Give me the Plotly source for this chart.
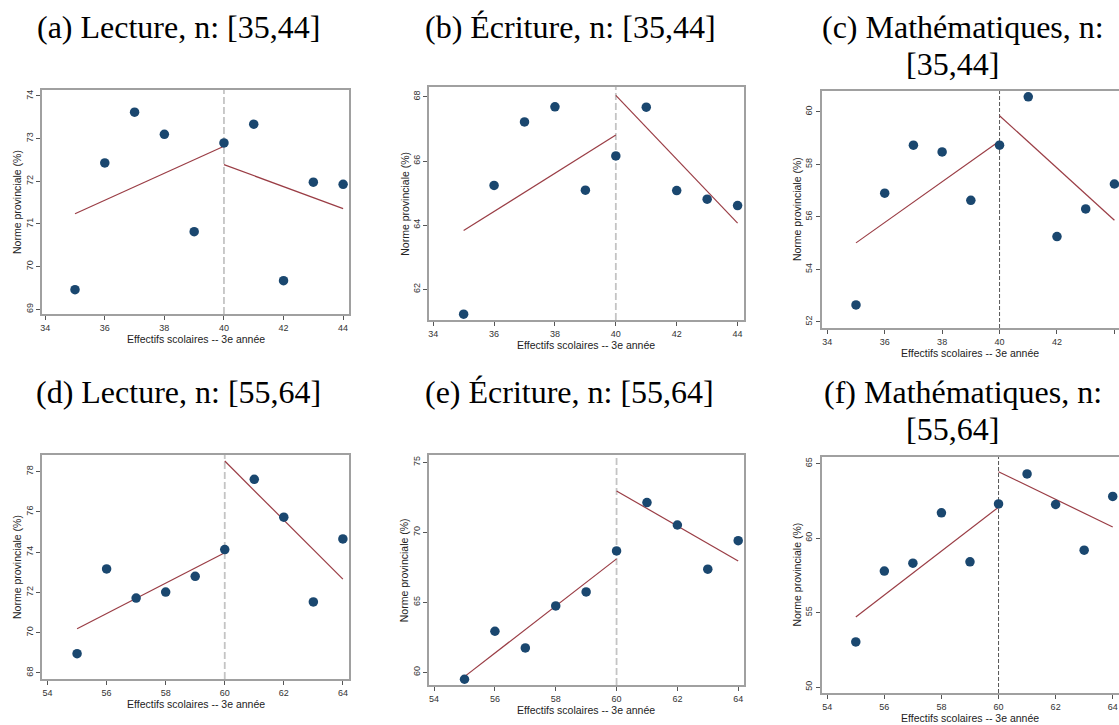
import plotly.graph_objects as go

# ---------------- DATA ----------------
x_35_44 = [35, 36, 37, 38, 39, 40, 41, 42, 43, 44]
x_55_64 = [55, 56, 57, 58, 59, 60, 61, 62, 63, 64]

lecture_35_44 = [69.46, 72.43, 73.62, 73.10, 70.82, 72.90, 73.34, 69.67, 71.98, 71.93]
ecriture_35_44 = [61.22, 65.24, 67.22, 67.69, 65.09, 66.16, 67.68, 65.08, 64.81, 64.61]
maths_35_44 = [52.65, 56.90, 58.73, 58.47, 56.63, 58.73, 60.57, 55.25, 56.30, 57.25]
lecture_55_64 = [68.96, 73.17, 71.72, 72.02, 72.80, 74.13, 77.62, 75.74, 71.53, 74.66]
ecriture_55_64 = [59.50, 62.93, 61.74, 64.74, 65.74, 68.67, 72.12, 70.52, 67.36, 69.40]
maths_55_64 = [53.03, 57.79, 58.32, 61.70, 58.41, 62.30, 64.31, 62.26, 59.19, 62.80]

# fitted lines: value at (first x, cutoff) and (cutoff, last x)
fit_left = [[71.24, 72.82], [63.83, 66.81], [55.01, 58.89],
            [70.20, 73.97], [59.69, 68.10], [54.70, 62.08]]
fit_right = [[72.39, 71.36], [68.05, 64.06], [59.85, 55.87],
             [78.53, 72.66], [72.95, 67.95], [64.46, 60.75]]
cutoffs = [40, 40, 40, 60, 60, 60]

titles = [["(a) Lecture, n: [35,44]"], ["(b) Écriture, n: [35,44]"],
          ["(c) Mathématiques, n:", "[35,44]"],
          ["(d) Lecture, n: [55,64]"], ["(e) Écriture, n: [55,64]"],
          ["(f) Mathématiques, n:", "[55,64]"]]
xtitle = "Effectifs scolaires -- 3e année"
ytitle = "Norme provinciale (%)"

xs = [x_35_44, x_35_44, x_35_44, x_55_64, x_55_64, x_55_64]
ys = [lecture_35_44, ecriture_35_44, maths_35_44, lecture_55_64, ecriture_55_64, maths_55_64]

# ---------------- LAYOUT (pixels) ----------------
W, H = 1119, 725
boxes = [(40, 348, 90, 314), (428, 743, 87, 320), (821, 1119, 91, 328),
         (40, 348, 455, 679), (428, 743, 455, 685), (821, 1119, 457, 693)]
xranges = [[33.89, 44.21], [33.87, 44.2], [33.8, 44.16],
           [53.81, 64.22], [53.84, 64.18], [53.8, 64.22]]
yranges = [[68.89, 74.14], [61.04, 68.31], [51.77, 60.79],
           [67.7, 78.83], [59.09, 75.52], [49.6, 65.45]]
yticks = [[69, 70, 71, 72, 73, 74], [62, 64, 66, 68], [52, 54, 56, 58, 60],
          [68, 70, 72, 74, 76, 78], [60, 65, 70, 75], [50, 55, 60, 65]]
xticks = [[34, 36, 38, 40, 42, 44]] * 3 + [[54, 56, 58, 60, 62, 64]] * 3
title_pos = [[(177, 27)], [(570, 27)], [(963, 27), (952, 64)],
             [(177, 392)], [(569, 392)], [(963, 392), (952, 429)]]

MARKER = "#1a476f"
FITC = "#9a3d45"
FRAME = "#a0a0a0"
SANS = "Liberation Sans, Arial, sans-serif"
SERIF = "Liberation Serif, Times New Roman, serif"

fig = go.Figure()
shapes = []
annotations = []

def px_x(p):
    return p / W

def px_y(p):
    return 1 - p / H

for i in range(6):
    k = "" if i == 0 else str(i + 1)
    xa, ya = "x" + k, "y" + k
    x0, x1, y0, y1 = boxes[i]
    dark = i in (2, 5)
    common = dict(showgrid=False, zeroline=False, showline=True, linecolor=FRAME,
                  linewidth=1.5, ticks="outside", ticklen=4, tickwidth=1,
                  tickcolor="#555", tickfont=dict(family=SANS, size=9, color="#333"))
    fig.layout["xaxis" + k] = dict(domain=[px_x(x0), px_x(x1)], range=xranges[i],
                                   anchor=ya, tickvals=xticks[i], mirror=True, **common)
    fig.layout["yaxis" + k] = dict(domain=[px_y(y1), px_y(y0)], range=yranges[i],
                                   anchor=xa, tickvals=yticks[i], tickangle=-90,
                                   mirror=not dark, **common)
    # cutoff dashed line
    shapes.append(dict(type="line", xref=xa, yref=ya + " domain",
                       x0=cutoffs[i], x1=cutoffs[i], y0=0, y1=1, layer="below",
                       line=dict(color="#555555" if dark else "#c4c4c4",
                                 width=1 if dark else 1.8,
                                 dash="4px,2px" if dark else "7px,3px")))
    xv = xs[i]
    c = cutoffs[i]
    fig.add_trace(go.Scatter(x=[xv[0], c], y=fit_left[i], mode="lines", xaxis=xa, yaxis=ya,
                             line=dict(color=FITC, width=1.2), showlegend=False))
    fig.add_trace(go.Scatter(x=[c, xv[-1]], y=fit_right[i], mode="lines", xaxis=xa, yaxis=ya,
                             line=dict(color=FITC, width=1.2), showlegend=False))
    fig.add_trace(go.Scatter(x=xv, y=ys[i], mode="markers", xaxis=xa, yaxis=ya,
                             marker=dict(color=MARKER, size=9.5, line=dict(width=0)),
                             showlegend=False, cliponaxis=False))
    # axis titles
    annotations.append(dict(text=xtitle, xref="paper", yref="paper",
                            x=px_x((x0 + x1) / 2), y=px_y(y1 + 25), showarrow=False,
                            xanchor="center", yanchor="middle",
                            font=dict(family=SANS, size=10.5, color="#222")))
    annotations.append(dict(text=ytitle, xref="paper", yref="paper",
                            x=px_x(x0 - 25), y=px_y((y0 + y1) / 2), showarrow=False,
                            textangle=-90, xanchor="center", yanchor="middle",
                            font=dict(family=SANS, size=10.5, color="#222")))
    for line_text, (tx, ty) in zip(titles[i], title_pos[i]):
        annotations.append(dict(text=line_text, xref="paper", yref="paper",
                                x=px_x(tx), y=px_y(ty), showarrow=False,
                                xanchor="center", yanchor="middle",
                                font=dict(family=SERIF, size=32, color="#000")))

fig.update_layout(width=W, height=H, margin=dict(l=0, r=0, t=0, b=0),
                  paper_bgcolor="white", plot_bgcolor="white",
                  shapes=shapes, annotations=annotations, showlegend=False)

fig.write_html("out.html", config={"displayModeBar": False},
               post_script="document.body.style.margin='0';document.body.style.overflow='hidden';")
